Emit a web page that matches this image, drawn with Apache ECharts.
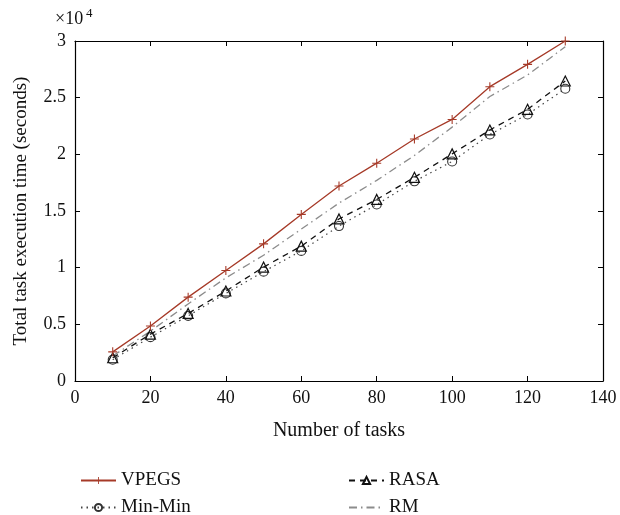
<!DOCTYPE html>
<html><head><meta charset="utf-8">
<script src="https://cdn.jsdelivr.net/npm/echarts@6/dist/echarts.min.js"></script>
<style>html,body{margin:0;padding:0;background:#fff}#c{width:620px;height:515px}</style>
</head><body><div id="c"></div>
<script>
const tasks = [10, 20, 30, 40, 50, 60, 70, 80, 90, 100, 110, 120, 130];
const vpegs = [2570, 4850, 7400, 9750, 12100, 14700, 17200, 19220, 21350, 23080, 25970, 27940, 30000];
const rasa = [2050, 4130, 5960, 7940, 10050, 11900, 14300, 16020, 17970, 20040, 22150, 23970, 26470];
const minmin = [1880, 3870, 5750, 7730, 9650, 11480, 13670, 15570, 17620, 19370, 21750, 23520, 25790];
const rm = [2200, 4400, 6800, 9100, 11100, 13400, 15700, 17700, 19900, 22400, 25100, 27000, 29500];
const xTicks = [0, 20, 40, 60, 80, 100, 120, 140];
const yTickLabels = ['0', '0.5', '1', '1.5', '2', '2.5', '3'];

const FONT = "'Liberation Serif','DejaVu Serif',serif";
const pair = arr => tasks.map((t, i) => [t, arr[i]]);
const plus = 'path://M0,4.4H10V5.6H0Z M4.4,0H5.6V10H4.4Z';

const chart = echarts.init(document.getElementById('c'), null, {renderer: 'canvas'});
const axisCommon = () => ({
  axisLine: {show: true, onZero: false, lineStyle: {color: '#000', width: 1.2}},
  axisTick: {show: true, inside: true, length: 5, lineStyle: {color: '#000', width: 1}},
  splitLine: {show: false}
});
const legendText = {fontFamily: FONT, fontSize: 19, color: '#111'};
const legendBase = {orient: 'horizontal', itemWidth: 35, itemHeight: 9, textStyle: legendText, selectedMode: false};
chart.setOption({
  animation: false,
  backgroundColor: '#fff',
  grid: {left: 75, right: 17, top: 41, bottom: 134},
  graphic: [
    {type: 'text', left: 55, top: 10, style: {text: '×10', font: "18px " + FONT, fill: '#111'}},
    {type: 'text', left: 86, top: 7, style: {text: '4', font: "13px " + FONT, fill: '#111'}}
  ],
  xAxis: [
    Object.assign({type: 'value', min: 0, max: 140, interval: 20, position: 'bottom',
      name: 'Number of tasks', nameLocation: 'middle', nameGap: 40,
      nameTextStyle: {fontFamily: FONT, fontSize: 20, color: '#111'},
      axisLabel: {fontFamily: FONT, fontSize: 18, color: '#111', margin: 8,
        formatter: v => xTicks.includes(v) ? String(v) : ''}}, axisCommon()),
    Object.assign({type: 'value', min: 0, max: 140, interval: 20, position: 'top',
      axisLabel: {show: false}}, axisCommon())
  ],
  yAxis: [
    Object.assign({type: 'value', min: 0, max: 30000, interval: 5000, position: 'left',
      name: 'Total task execution time (seconds)', nameLocation: 'middle', nameGap: 44,
      nameTextStyle: {fontFamily: FONT, fontSize: 19, color: '#111'},
      axisLabel: {fontFamily: FONT, fontSize: 18, color: '#111', margin: 9,
        formatter: v => yTickLabels[Math.round(v / 5000)]}}, axisCommon()),
    Object.assign({type: 'value', min: 0, max: 30000, interval: 5000, position: 'right',
      axisLabel: {show: false}}, axisCommon())
  ],
  legend: [
    Object.assign({data: ['VPEGS'], left: 75, top: 466}, legendBase),
    Object.assign({data: ['Min-Min'], left: 75, top: 493}, legendBase),
    Object.assign({data: ['RASA'], left: 343, top: 466}, legendBase),
    Object.assign({data: [{name: 'RM', itemStyle: {opacity: 0}}], left: 343, top: 493}, legendBase)
  ],
  series: [
    {name: 'VPEGS', type: 'line', data: pair(vpegs), symbol: plus, symbolSize: 9, z: 5,
      lineStyle: {color: '#a63a28', width: 1.3, type: 'solid'},
      itemStyle: {color: '#a63a28'}},
    {name: 'Min-Min', type: 'line', data: pair(minmin), symbol: 'circle', symbolSize: 9,
      lineStyle: {color: '#444', width: 1.2, type: [1.5, 4]},
      itemStyle: {color: 'rgba(255,255,255,0)', borderColor: '#333', borderWidth: 1.1}},
    {name: 'RASA', type: 'line', data: pair(rasa), symbol: 'triangle', symbolSize: 10,
      lineStyle: {color: '#111', width: 1.3, type: [6, 5]},
      itemStyle: {color: 'rgba(255,255,255,0)', borderColor: '#111', borderWidth: 1.2}},
    {name: 'RM', type: 'line', data: pair(rm), symbol: 'none', showSymbol: false,
      lineStyle: {color: '#8c8c8c', width: 1.3, type: [8, 4, 1.5, 4]},
      itemStyle: {color: '#8c8c8c'}}
  ]
});
</script></body></html>
